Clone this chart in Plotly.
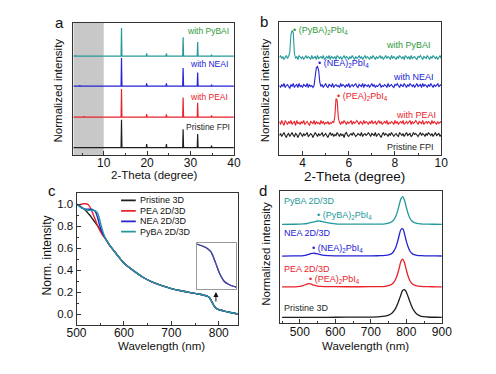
import numpy as np
import plotly.graph_objects as go

W, H = 496, 374
FONT = "Liberation Sans, Arial, sans-serif"
BLACK = "#1e1e1e"
RED = "#e8232a"
BLUE = "#2323d4"
TEAL = "#24999a"
GREEN = "#2f9a3a"

# ---------------- panel a : XRD ----------------
xrd_two_theta = [3.0, 3.4, 3.5, 3.6, 4.4, 4.5, 4.6, 5.3, 5.4, 5.5,
                 14.0, 14.1, 14.2, 19.8, 19.9, 20.0, 24.35, 24.45, 24.55,
                 28.2, 28.3, 28.4, 31.55, 31.65, 31.75, 34.75, 34.85, 34.95, 40.0]
xrd_pristine = [0, 0, 0, 0, 0, 0, 0, 0, 0, 0, 0, 1.0, 0, 0, 0.13, 0, 0, 0.13, 0,
                0, 0.66, 0, 0, 0.49, 0, 0, 0.07, 0, 0]
xrd_pea = [0, 0, 0, 0, 0, 0, 0, 0, 0.03, 0, 0, 1.0, 0, 0, 0.11, 0, 0, 0.10, 0,
           0, 0.70, 0, 0, 0.51, 0, 0, 0.06, 0, 0]
xrd_nea = [0, 0, 0, 0, 0, 0.03, 0, 0, 0, 0, 0, 1.0, 0, 0, 0.10, 0, 0, 0.10, 0,
           0, 0.64, 0, 0, 0.48, 0, 0, 0.05, 0, 0]
xrd_pyba = [0, 0, 0.03, 0, 0, 0, 0, 0, 0, 0, 0, 1.0, 0, 0, 0.10, 0, 0, 0.10, 0,
            0, 0.67, 0, 0, 0.50, 0, 0, 0.05, 0, 0]
xrd_offsets = [0, 1.09, 2.2, 3.27]
xrd_labels = ["Pristine FPI", "with PEAI", "with NEAI", "with PyBAI"]

# ---------------- panel b : low-angle XRD ----------------
low_two_theta = list(np.round(3.0 + 0.05 * np.arange(141), 2))
low_pristine = [3, 5, 2, 4, 6, 3, 1, 4, 5, 2,
                4, 6, 3, 2, 5, 4, 1, 3, 6, 4,
                2, 5, 3, 4, 6, 2, 3, 5, 4, 1,
                3, 6, 4, 2, 5, 3, 4, 6, 2, 4,
                5, 3, 1, 4, 6, 3, 5, 2, 4, 3,
                6, 4, 2, 5, 3, 4, 1, 5, 6, 3,
                2, 4, 5, 3, 6, 4, 2, 3, 5, 4,
                3, 6, 2, 4, 5, 3, 4, 6, 3, 2,
                5, 4, 3, 6, 2, 4, 5, 3, 1, 4,
                6, 3, 5, 4, 2, 5, 3, 6, 4, 2,
                4, 5, 3, 2, 6, 4, 3, 5, 2, 4,
                6, 3, 4, 5, 2, 3, 6, 4, 5, 3,
                2, 4, 6, 3, 5, 4, 2, 5, 3, 6,
                4, 3, 5, 2, 4, 6, 3, 4, 5, 2,
                4]
low_pea = [5, 2, 6, 3, 1, 6, 4, 2, 5, 3,
           6, 2, 4, 5, 1, 6, 3, 4, 2, 5,
           3, 6, 2, 4, 5, 3, 1, 5, 4, 3,
           6, 2, 5, 3, 4, 2, 6, 3, 5, 2,
           4, 3, 5, 2, 4, 3, 5, 4, 10, 28,
           26, 9, 4, 2, 5, 3, 6, 4, 2, 5,
           3, 4, 6, 2, 5, 3, 4, 6, 3, 2,
           5, 4, 2, 6, 3, 5, 4, 2, 5, 3,
           6, 3, 4, 5, 2, 4, 6, 3, 5, 2,
           4, 5, 3, 6, 2, 4, 3, 5, 4, 2,
           6, 3, 5, 2, 4, 5, 3, 6, 2, 4,
           5, 3, 4, 6, 2, 5, 3, 4, 6, 3,
           2, 5, 4, 3, 6, 2, 4, 5, 3, 5,
           4, 2, 6, 3, 5, 4, 2, 5, 3, 4,
           5]
low_nea = [4, 2, 5, 3, 6, 2, 4, 5, 3, 1,
           5, 3, 6, 2, 4, 5, 2, 6, 3, 4,
           2, 5, 4, 3, 6, 2, 5, 3, 4, 2,
           4, 11, 22, 23, 19, 7, 3, 5, 2, 4,
           6, 3, 2, 5, 4, 3, 6, 2, 4, 5,
           3, 4, 2, 6, 3, 5, 4, 2, 5, 3,
           6, 2, 4, 5, 3, 4, 6, 3, 2, 5,
           4, 3, 6, 2, 5, 4, 3, 5, 2, 4,
           6, 3, 5, 2, 4, 3, 5, 6, 2, 4,
           3, 5, 4, 2, 6, 3, 4, 5, 3, 2,
           5, 4, 6, 3, 2, 5, 4, 3, 6, 4,
           2, 5, 3, 6, 4, 3, 5, 2, 4, 6,
           3, 4, 5, 2, 6, 3, 5, 4, 2, 5,
           3, 6, 4, 2, 5, 3, 4, 6, 3, 4,
           5]
low_pyba = [4, 6, 3, 5, 2, 4, 6, 3, 5, 9,
            27, 31, 29, 8, 3, 5, 2, 6, 4, 3,
            5, 2, 4, 6, 3, 5, 4, 2, 6, 3,
            4, 5, 2, 6, 3, 4, 5, 3, 6, 2,
            4, 5, 3, 6, 2, 5, 4, 3, 5, 2,
            6, 4, 3, 5, 2, 4, 6, 3, 5, 4,
            2, 5, 3, 6, 4, 2, 5, 3, 4, 6,
            3, 5, 2, 4, 6, 3, 5, 4, 2, 5,
            3, 6, 4, 2, 5, 3, 4, 6, 3, 5,
            2, 4, 6, 3, 5, 4, 2, 6, 3, 5,
            4, 2, 5, 3, 6, 4, 3, 5, 2, 6,
            4, 3, 5, 2, 6, 3, 4, 5, 3, 2,
            5, 4, 6, 3, 2, 5, 4, 3, 6, 4,
            2, 5, 3, 6, 4, 3, 5, 2, 4, 6,
            3]
low_scale = 0.1
low_offsets = [1.65, 2.85, 6.55, 9.35]

# ---------------- panel c : absorption ----------------
abs_wl_head = [500, 505, 510, 515, 520, 525, 530, 535, 540, 545, 550, 555, 560, 565]
abs_pristine_head = [1.0, 0.99, 0.975, 0.96, 0.94, 0.915, 0.89, 0.86, 0.83, 0.80, 0.765, 0.73, 0.695, 0.66]
abs_pea_head = [1.0, 0.995, 1.0, 1.005, 1.005, 0.995, 0.96, 0.91, 0.855, 0.80, 0.755, 0.72, 0.69, 0.66]
abs_nea_head = [1.0, 0.985, 0.97, 0.96, 0.955, 0.955, 0.955, 0.95, 0.93, 0.87, 0.79, 0.735, 0.695, 0.66]
abs_pyba_head = [1.0, 0.985, 0.97, 0.96, 0.95, 0.945, 0.945, 0.945, 0.94, 0.915, 0.84, 0.76, 0.70, 0.66]
abs_wl_tail = [570, 580, 590, 600, 620, 640, 660, 680, 700, 720, 740, 760, 770, 775,
               780, 785, 790, 795, 800, 805, 810, 820, 830, 840]
abs_tail = [0.625, 0.57, 0.515, 0.465, 0.395, 0.335, 0.29, 0.258, 0.232, 0.212, 0.195,
            0.18, 0.17, 0.163, 0.15, 0.115, 0.075, 0.05, 0.04, 0.034, 0.029, 0.018, 0.009, 0.0]
abs_labels = ["Pristine 3D", "PEA 2D/3D", "NEA 2D/3D", "PyBA 2D/3D"]

# ---------------- panel d : PL ----------------
pl_wl = [450, 480, 500, 510, 520, 525, 530, 540, 550, 560, 570, 580, 600, 650, 700, 720,
         740, 750, 760, 765, 770, 775, 780, 785, 790, 795, 800, 805, 810, 815, 820, 830,
         840, 860, 880, 900]
pl_pristine = [0.0, 0.001, 0.002, 0.002, 0.003, 0.003, 0.003, 0.003, 0.003, 0.004, 0.004,
               0.004, 0.005, 0.008, 0.012, 0.02, 0.045, 0.08, 0.16, 0.23, 0.33, 0.47, 0.64,
               0.82, 0.97, 0.99, 0.90, 0.74, 0.56, 0.40, 0.27, 0.11, 0.05, 0.015, 0.005, 0.002]
pl_pea = [0.0, 0.002, 0.015, 0.05, 0.10, 0.115, 0.105, 0.06, 0.03, 0.015, 0.01, 0.008,
          0.005, 0.004, 0.006, 0.01, 0.02, 0.04, 0.10, 0.17, 0.28, 0.45, 0.68, 0.92, 0.99,
          0.85, 0.60, 0.38, 0.22, 0.13, 0.08, 0.035, 0.018, 0.006, 0.003, 0.001]
pl_nea = [0.0, 0.002, 0.006, 0.015, 0.04, 0.06, 0.085, 0.10, 0.075, 0.04, 0.02, 0.012,
          0.006, 0.004, 0.006, 0.01, 0.02, 0.04, 0.10, 0.18, 0.30, 0.50, 0.75, 0.95, 0.97,
          0.78, 0.52, 0.32, 0.18, 0.10, 0.06, 0.025, 0.012, 0.005, 0.002, 0.001]
pl_pyba = [0.0, 0.003, 0.008, 0.015, 0.03, 0.045, 0.06, 0.09, 0.12, 0.11, 0.08, 0.05,
           0.02, 0.006, 0.007, 0.01, 0.02, 0.04, 0.10, 0.17, 0.28, 0.46, 0.70, 0.92, 0.99,
           0.85, 0.60, 0.38, 0.22, 0.13, 0.08, 0.035, 0.018, 0.006, 0.003, 0.001]
pl_offsets = [0, 1.09, 2.19, 3.32]
pl_labels = ["Pristine 3D", "PEA 2D/3D", "NEA 2D/3D", "PyBA 2D/3D"]

colors = [BLACK, RED, BLUE, TEAL]


def px_x(p):
    return p / W


def px_y(p):
    return 1 - p / H


fig = go.Figure()

# panel a
for ys, off, c in zip([xrd_pristine, xrd_pea, xrd_nea, xrd_pyba], xrd_offsets, colors):
    fig.add_trace(go.Scatter(x=xrd_two_theta, y=[v + off for v in ys], mode="lines",
                             line=dict(color=c, width=1.2), xaxis="x", yaxis="y",
                             showlegend=False))
# panel b
for ys, off, c in zip([low_pristine, low_pea, low_nea, low_pyba], low_offsets, colors):
    fig.add_trace(go.Scatter(x=low_two_theta, y=[v * low_scale + off for v in ys],
                             mode="lines", line=dict(color=c, width=1.1),
                             xaxis="x2", yaxis="y2", showlegend=False))
# panel c
abs_heads = [abs_pristine_head, abs_pea_head, abs_nea_head, abs_pyba_head]
for hd, c in zip(abs_heads, colors):
    fig.add_trace(go.Scatter(x=abs_wl_head + abs_wl_tail, y=hd + abs_tail, mode="lines",
                             line=dict(color=c, width=1.4, shape="spline"),
                             xaxis="x3", yaxis="y3", showlegend=False))
# inset
for hd, c in zip(abs_heads, [BLACK, RED, TEAL, BLUE]):
    fig.add_trace(go.Scatter(x=abs_wl_head + abs_wl_tail, y=hd + abs_tail, mode="lines",
                             line=dict(color=c, width=1.2, shape="spline"),
                             opacity=0.6, xaxis="x5", yaxis="y5", showlegend=False))
# panel d
for ys, off, c in zip([pl_pristine, pl_pea, pl_nea, pl_pyba], pl_offsets, colors):
    fig.add_trace(go.Scatter(x=pl_wl, y=[v + off for v in ys], mode="lines",
                             line=dict(color=c, width=1.3, shape="spline"),
                             xaxis="x4", yaxis="y4", showlegend=False))

axis_common = dict(showline=True, mirror=True, linecolor="#333", linewidth=1,
                   ticks="inside", ticklen=4, tickcolor="#333", showgrid=False,
                   zeroline=False, tickfont=dict(size=12, color="#111"))
xtick_extra = dict(ticklabelstandoff=-3)
noy = dict(showline=True, mirror=True, linecolor="#333", linewidth=1, ticks="",
           showticklabels=False, showgrid=False, zeroline=False)

fig.update_layout(
    width=W, height=H, margin=dict(l=0, r=0, t=0, b=0),
    paper_bgcolor="white", plot_bgcolor="white",
    font=dict(family=FONT, color="#111"),
    xaxis=dict(domain=[px_x(66), px_x(233.3)], range=[3, 40], tick0=0, dtick=10,
               minor=dict(dtick=5, ticks="inside", ticklen=2, tickcolor="#333"),
               anchor="y", **axis_common, **xtick_extra),
    yaxis=dict(domain=[px_y(155), px_y(22.7)], range=[-0.26, 4.46], anchor="x", **noy),
    xaxis2=dict(domain=[px_x(280.7), px_x(449.3)], range=[3, 10], tick0=0, dtick=2,
                minor=dict(dtick=1, ticks="inside", ticklen=2, tickcolor="#333"),
                anchor="y2", **axis_common, **xtick_extra),
    yaxis2=dict(domain=[px_y(155), px_y(22)], range=[0, 13.3], anchor="x2", **noy),
    xaxis3=dict(domain=[px_x(69.3), px_x(237.3)], range=[500, 840], tick0=0, dtick=100,
                minor=dict(dtick=50, ticks="inside", ticklen=2, tickcolor="#333"),
                anchor="y3", **axis_common, **xtick_extra),
    yaxis3=dict(domain=[px_y(325), px_y(193.3)], range=[-0.1, 1.1], tick0=0, dtick=0.2,
                tickformat=".1f",
                minor=dict(dtick=0.1, ticks="inside", ticklen=2, tickcolor="#333"),
                anchor="x3", **{**axis_common, "tickfont": dict(size=11.5, color="#111")}),
    xaxis4=dict(domain=[px_x(281.7), px_x(450)], range=[445, 900], tick0=0, dtick=100,
                minor=dict(dtick=50, ticks="inside", ticklen=2, tickcolor="#333"),
                anchor="y4", **axis_common, **xtick_extra),
    yaxis4=dict(domain=[px_y(323.3), px_y(191)], range=[-0.21, 4.51], anchor="x4", **noy),
    xaxis5=dict(domain=[px_x(195), px_x(235.7)], range=[765, 808], anchor="y5",
                showline=True, mirror=True, linecolor="#999", linewidth=1, ticks="",
                showticklabels=False, showgrid=False, zeroline=False),
    yaxis5=dict(domain=[px_y(289), px_y(242.7)], range=[0.025, 0.18], anchor="x5",
                showline=True, mirror=True, linecolor="#999", linewidth=1, ticks="",
                showticklabels=False, showgrid=False, zeroline=False),
)

shapes = [dict(type="rect", xref="x", yref="y domain", x0=3, x1=10, y0=0, y1=1,
               fillcolor="#c8c8c8", line=dict(width=0), layer="below")]
ann = []


def add_text(text, x, y, xref, yref, size, color="#111", xanchor="center",
             yanchor="middle", angle=0):
    ann.append(dict(text=text, x=x, y=y, xref=xref, yref=yref, showarrow=False,
                    font=dict(size=size, color=color, family=FONT), xanchor=xanchor,
                    yanchor=yanchor, textangle=angle))


def add_px(text, px, py, size, angle=0, color="#111"):
    add_text(text, px_x(px), px_y(py), "paper", "paper", size, color=color, angle=angle)


# panel letters
add_px("a", 52, 22, 15)
add_px("b", 265, 21, 15)
add_px("c", 44, 190, 15)
add_px("d", 263.5, 190, 15)

# axis titles
add_px("Normalized intensity", 50.5, 90, 11.5, angle=-90)
add_px("2-Theta (degree)", 150, 175, 11.5)
add_px("Normalized intensity", 266, 90, 11.5, angle=-90)
add_px("2-Theta (degree)", 359, 176, 13.5)
add_px("Norm. intensity", 39, 255, 12, angle=-90)
add_px("Wavelength (nm)", 158, 346, 11.5)
add_px("Normalized intensity", 266.5, 254, 11.5, angle=-90)
add_px("Wavelength (nm)", 370, 346, 11.5)

# panel a labels (right-aligned)
a_label_pos = [(39.6, 0.74), (39.05, 1.81), (39.05, 2.99), (39.4, 4.18)]
for lab, (x, y), c in zip(xrd_labels, a_label_pos, [BLACK, RED, BLUE, GREEN]):
    add_text(lab, x, y, "x", "y", 8.5, color=c, xanchor="right")

# panel b labels (right-aligned)
b_label_pos = [(9.79, 0.83), (9.86, 4.0), (9.79, 7.83), (9.64, 11.0)]
for lab, (x, y), c in zip(xrd_labels, b_label_pos, [BLACK, RED, BLUE, GREEN]):
    add_text(lab, x, y, "x2", "y2", 9, color=c, xanchor="right")
b_phase = [("• (PEA)<sub>2</sub>PbI<sub>4</sub>", 5.41, 5.9, RED),
           ("• (NEA)<sub>2</sub>PbI<sub>4</sub>", 4.59, 9.15, BLUE),
           ("• (PyBA)<sub>2</sub>PbI<sub>4</sub>", 3.49, 12.5, GREEN)]
for t, x, y, c in b_phase:
    add_text(t, x, y, "x2", "y2", 9, color=c, xanchor="left")

# panel c legend
leg_rows = [1.035, 0.94, 0.845, 0.75]
for lab, y, c in zip(abs_labels, leg_rows, colors):
    shapes.append(dict(type="line", xref="x3", yref="y3", x0=594, x1=625, y0=y, y1=y,
                       line=dict(color=c, width=1.8)))
    add_text(lab, 629, y, "x3", "y3", 9, xanchor="left")
ann.append(dict(x=794, y=0.20, ax=794, ay=0.10, xref="x3", yref="y3", axref="x3",
                ayref="y3", showarrow=True, arrowhead=2, arrowsize=1, arrowwidth=1,
                arrowcolor="#111", text=""))

# panel d labels
d_label_pos = [0.32, 1.71, 3.0, 4.15]
for lab, y, c in zip(pl_labels, d_label_pos, colors):
    add_text(lab, 449, y, "x4", "y4", 9, color=c, xanchor="left")
d_phase = [("• (PEA)<sub>2</sub>PbI<sub>4</sub>", 519, 1.36, RED),
           ("• (NEA)<sub>2</sub>PbI<sub>4</sub>", 529, 2.47, BLUE),
           ("• (PyBA)<sub>2</sub>PbI<sub>4</sub>", 544, 3.62, TEAL)]
for t, x, y, c in d_phase:
    add_text(t, x, y, "x4", "y4", 9, color=c, xanchor="left")

fig.update_layout(shapes=shapes, annotations=ann)
fig.write_html("out.html", config={"displayModeBar": False},
               post_script="document.body.style.margin='0px';"
                           "document.body.style.overflow='hidden';")
